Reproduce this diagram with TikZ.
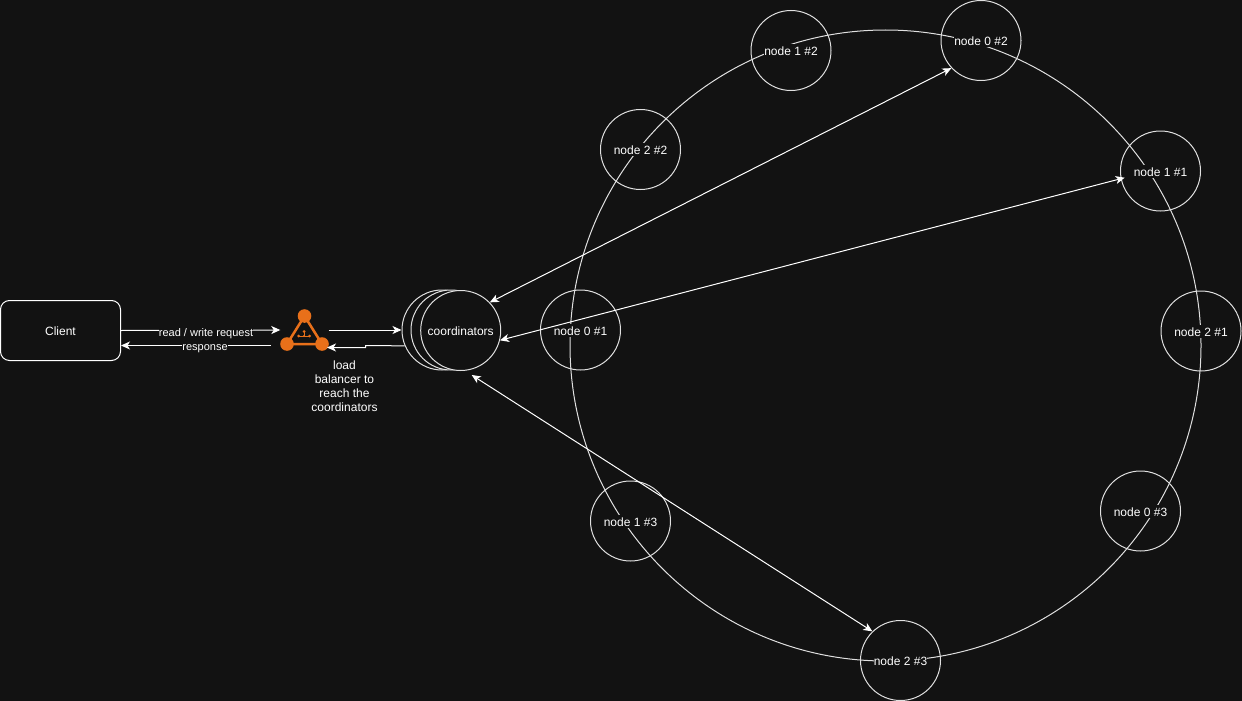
\documentclass[tikz,border=0pt]{standalone}
\usepackage{fontspec}
\setmainfont{Liberation Sans}
\usetikzlibrary{arrows.meta}
\definecolor{bgc}{HTML}{121212}
\definecolor{linec}{HTML}{E0E0E0}
\definecolor{lbc}{HTML}{E8701A}
\tikzset{
  x=1pt,y=-1pt,
  ringnode/.style={circle,draw=linec,line width=1pt,minimum size=80pt,inner sep=0pt,
    label={[tagbox]center:#1}},
  tagbox/.style={fill=bgc,text=white,font=\fontsize{12}{14}\selectfont,inner sep=0pt,
    text height=11.5pt,text depth=1.5pt},
  smalltag/.style={fill=bgc,text=white,font=\fontsize{11}{13}\selectfont,inner sep=0pt},
  cocirc/.style={circle,draw=linec,fill=bgc,line width=1pt,minimum size=80pt,inner sep=0pt},
  link/.style={draw=white,line width=1pt,-{Stealth[length=9pt,width=8pt,inset=2.5pt]}},
  dlink/.style={draw=white,line width=1pt,{Stealth[length=9pt,width=8pt,inset=2.5pt]}-{Stealth[length=9pt,width=8pt,inset=2.5pt]}},
}
\begin{document}
\begin{tikzpicture}
\useasboundingbox (0,0) rectangle (1242,701);
\fill[bgc] (0,0) rectangle (1242,701);

% ring
\node[circle,draw=linec,line width=1pt,minimum size=631pt,inner sep=0pt] (ring) at (885.5,345.5) {};

% coordinators stack
\node[cocirc] (c3) at (442,330) {};
\node[cocirc] (c2) at (451,330) {};
\node[cocirc,text=white,font=\fontsize{12}{14}\selectfont,text height=12pt,text depth=2pt] (c1) at (460.7,330.5) {coordinators};

\node[ringnode={node 0 \#2}] (n02) at (981,40.5) {};
\node[ringnode={node 1 \#2}] (n12) at (791,50.5) {};
\node[ringnode={node 2 \#2}] (n22) at (640.5,149.5) {};
\node[ringnode={node 1 \#1}] (n11) at (1160.5,171) {};
\node[ringnode={node 2 \#1}] (n21) at (1201,331) {};
\node[ringnode={node 0 \#1}] (n01) at (580.5,330) {};
\node[ringnode={node 0 \#3}] (n03) at (1140.5,511) {};
\node[ringnode={node 1 \#3}] (n13) at (630.5,521) {};
\node[ringnode={node 2 \#3}] (n23) at (900.5,660.5) {};

\draw[dlink] (c1.44) -- (n02.223.5);
\draw[dlink,shorten >=-4pt] (c1.-14) -- (n11.191);
\draw[dlink] ([shift={(11,44.5)}]c1.center) -- (n23.134);

% client
\node[draw=white,line width=1pt,rounded corners=9pt,minimum width=120pt,minimum height=60pt,inner sep=0pt,
  text=white,font=\fontsize{12}{14}\selectfont,text height=12pt,text depth=2pt] (client) at (60.5,330.5) {Client};

% load balancer
\node[minimum width=48pt,minimum height=40pt,inner sep=0pt] (lb) at (304.5,330) {};
\coordinate (lbtop) at (304.5,316);
\coordinate (lbl) at (287,344);
\coordinate (lbr) at (322,344);
\draw[lbc,line width=2.5pt] (lbtop) -- (lbl) -- (lbr) -- cycle;
\fill[lbc] (lbtop) circle[radius=6.8] (lbl) circle[radius=6.8] (lbr) circle[radius=6.8];
\draw[lbc,line width=0.4pt] (298.5,336) -- (309.5,336) (304,331) -- (304,336);
\fill[lbc] (304,331.5) circle[radius=1.5] (298.5,336) circle[radius=1.5] (304,336) circle[radius=1.2] (309.5,336) circle[radius=1.5];

% connectors
\coordinate (respstart) at (271,345.5);
\coordinate (lbback) at (327,347.5);
\draw[link] (client.east) -- (lb.west);
\draw[link] (respstart) -- (client.east |- respstart);
\draw[link] (lb.east) -- (c3.west);
\draw[link] (c3.203) -- (365.5,345.6) -- (365.5,347.5) -- (lbback);

% labels
\node[smalltag] (reqtag) at (206,334) {read / write request};
\node[smalltag] (resptag) at (205,349) {response};
\node[align=center,text=white,font=\fontsize{12}{14}\selectfont,inner sep=0pt] (lbtag) at (344.5,386.5) {load\\balancer to\\reach the\\coordinators};
\end{tikzpicture}
\end{document}
